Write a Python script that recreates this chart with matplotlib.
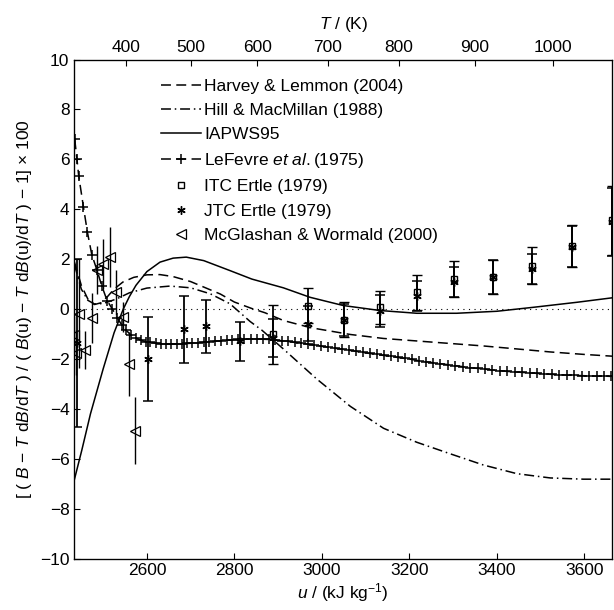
import numpy as np
import matplotlib
matplotlib.use("Agg")
import matplotlib.pyplot as plt
from matplotlib.lines import Line2D

plt.rcParams['font.family'] = ['Liberation Sans', 'DejaVu Sans']
plt.rcParams['mathtext.fontset'] = 'custom'
plt.rcParams['mathtext.rm'] = 'Liberation Sans'
plt.rcParams['mathtext.it'] = 'Liberation Sans:italic'
plt.rcParams['font.size'] = 12.5

# --- curves (u in kJ/kg, deviation in %) ---
IAPWS_U = [2434, 2451, 2471, 2500, 2525, 2546, 2560, 2575, 2600, 2630, 2660, 2690, 2730,
           2790, 2840, 2912, 2973, 3049, 3133, 3217, 3308, 3400, 3484, 3583, 3664]
IAPWS_Y = [-6.85, -5.67, -4.2, -2.4, -0.95, 0.0, 0.5, 0.95, 1.5, 1.88, 2.04, 2.08, 1.94,
           1.54, 1.2, 0.85, 0.47, 0.14, -0.06, -0.17, -0.17, -0.09, 0.07, 0.27, 0.45]

HARVEY_U = [2434, 2450, 2465, 2480, 2495, 2510, 2525, 2545, 2570, 2600, 2630, 2660, 2700,
            2730, 2768, 2800, 2840, 2870, 2912, 2975, 3065, 3141, 3217, 3293, 3369, 3446,
            3522, 3600, 3664]
HARVEY_Y = [1.9, 0.95, 0.4, 0.18, 0.25, 0.5, 0.8, 1.08, 1.27, 1.37, 1.38, 1.30, 1.1,
            0.88, 0.6, 0.28, 0.02, -0.15, -0.46, -0.75, -1.02, -1.18, -1.28, -1.38, -1.48,
            -1.6, -1.72, -1.82, -1.89]

HILL_U = [2434, 2450, 2465, 2480, 2500, 2530, 2560, 2600, 2653, 2700, 2745, 2790, 2836,
          2863, 2912, 2988, 3065, 3141, 3217, 3293, 3369, 3446, 3522, 3598, 3664]
HILL_Y = [1.8, 0.8, 0.35, 0.2, 0.22, 0.4, 0.65, 0.84, 0.92, 0.85, 0.61, 0.21, -0.5,
          -0.85, -1.6, -2.8, -3.9, -4.78, -5.34, -5.8, -6.25, -6.6, -6.77, -6.82, -6.82]

LEFEVRE_U = [2435, 2440, 2444, 2455, 2464, 2474, 2486, 2497, 2509, 2521, 2532, 2543, 2553,
             2564, 2575, 2586, 2597, 2608, 2620, 2632, 2644, 2656, 2668, 2680, 2692, 2704,
             2717, 2730, 2743, 2756, 2769, 2782, 2795, 2809, 2823, 2837, 2851, 2865, 2879,
             2893, 2908, 2923, 2938, 2953, 2968, 2983, 2998, 3013, 3029, 3045, 3061, 3077,
             3093, 3109, 3125, 3141, 3157, 3173, 3189, 3205, 3221, 3237, 3254, 3271, 3288,
             3305, 3322, 3339, 3356, 3373, 3390, 3407, 3424, 3441, 3458, 3475, 3492, 3509,
             3526, 3543, 3560, 3577, 3594, 3611, 3628, 3645, 3662]
LEFEVRE_Y = [6.8, 6.02, 5.35, 4.08, 3.08, 2.18, 1.55, 0.92, 0.34, 0.0, -0.35, -0.65, -0.86,
             -1.05, -1.16, -1.25, -1.31, -1.34, -1.37, -1.39, -1.40, -1.40, -1.40, -1.39,
             -1.38, -1.37, -1.35, -1.33, -1.31, -1.29, -1.27, -1.25, -1.24, -1.22, -1.21,
             -1.20, -1.20, -1.21, -1.22, -1.24, -1.27, -1.30, -1.34, -1.37, -1.41, -1.45,
             -1.49, -1.53, -1.57, -1.61, -1.65, -1.69, -1.74, -1.78, -1.82, -1.86, -1.90,
             -1.94, -1.98, -2.02, -2.07, -2.11, -2.15, -2.19, -2.23, -2.27, -2.31, -2.35,
             -2.38, -2.41, -2.44, -2.47, -2.50, -2.52, -2.54, -2.56, -2.58, -2.60, -2.62,
             -2.63, -2.65, -2.66, -2.67, -2.68, -2.69, -2.69, -2.70]

# --- measurements ---
ITC_U = [2889, 2969, 3051, 3133, 3217, 3302, 3391, 3480, 3572, 3663]
ITC_Y = [-1.02, 0.14, -0.42, 0.07, 0.67, 1.21, 1.28, 1.74, 2.52, 3.55]
ITC_ERR = [1.2, 0.7, 0.69, 0.67, 0.7, 0.72, 0.67, 0.75, 0.83, 1.37]

JTC_U = [2440, 2602, 2684, 2735, 2813, 2889, 2969, 3051, 3133, 3217, 3302, 3391, 3480, 3572, 3663]
JTC_Y = [-1.37, -2.0, -0.82, -0.70, -1.30, -1.15, -0.59, -0.44, -0.09, 0.54, 1.08, 1.28, 1.61, 2.50, 3.5]
JTC_ERR = [3.37, 1.69, 1.34, 1.05, 0.8, 0.77, 0.7, 0.65, 0.65, 0.6, 0.6, 0.67, 0.6, 0.83, 1.37]

MCG_U = [2434, 2438, 2444, 2459, 2474, 2486, 2499, 2516, 2530, 2545, 2558, 2572]
MCG_Y = [-1.06, -1.75, -0.18, -1.65, -0.37, 1.57, 1.81, 2.08, 0.67, -0.33, -2.2, -4.87]
MCG_ERR = [0.8, 0.9, 2.2, 0.75, 1.0, 0.95, 1.0, 1.2, 0.9, 0.6, 1.27, 1.36]

# top axis: temperature ticks placed at matching u
T_TICK_U = [2553, 2700, 2852, 3013, 3176, 3349, 3528]
T_TICK_LABELS = ['400', '500', '600', '700', '800', '900', '1000']

X_TICKS = [2600, 2800, 3000, 3200, 3400, 3600]
Y_TICKS = [-10, -8, -6, -4, -2, 0, 2, 4, 6, 8, 10]

LW = 1.1
DASHED = (6.5, 3.5)
DASHDOT = (6.5, 2.5, 1.0, 2.5)


def draw(ax):
    ax.axhline(0, color='black', lw=0.8, linestyle=(0, (1, 4)), zorder=1)
    ax.plot(HARVEY_U, HARVEY_Y, color='black', lw=LW, dashes=DASHED)
    ax.plot(HILL_U, HILL_Y, color='black', lw=LW, dashes=DASHDOT)
    ax.plot(IAPWS_U, IAPWS_Y, color='black', lw=LW)
    ax.plot(LEFEVRE_U, LEFEVRE_Y, color='black', lw=LW, dashes=DASHED,
            marker='+', markersize=6.5, markeredgewidth=1.1)

    ax.errorbar(ITC_U, ITC_Y, yerr=ITC_ERR, fmt='s', color='black', mfc='none',
                markersize=5, elinewidth=1.3, capsize=3.5, capthick=1.1, mew=1.0)
    ax.errorbar(JTC_U, JTC_Y, yerr=JTC_ERR, fmt='none', ecolor='black',
                elinewidth=1.3, capsize=3.5, capthick=1.1)
    ax.plot(JTC_U, JTC_Y, linestyle='none', marker=(6, 2, 0), color='black',
            markersize=6, mew=1.0)
    ax.errorbar(MCG_U, MCG_Y, yerr=MCG_ERR, fmt='<', color='black', mfc='none',
                markersize=7, elinewidth=1.0, capsize=0, mew=0.9)


def main():
    fig = plt.figure(figsize=(6.14, 6.10), dpi=100)
    ax = fig.add_axes([0.121, 0.0844, 0.8762, 0.818])

    draw(ax)

    ax.set_xlim(2434, 3664)
    ax.set_ylim(-10, 10)
    ax.set_xticks(X_TICKS)
    ax.set_yticks(Y_TICKS)
    ax.set_yticklabels(['\u221210', '\u22128', '\u22126', '\u22124', '\u22122',
                        '0', '2', '4', '6', '8', '10'])
    ax.tick_params(direction='in', length=4, width=0.8, top=False, right=False)
    for s in ax.spines.values():
        s.set_linewidth(0.9)
    ax.set_xlabel(r'$u$ / (kJ kg$^{\mathregular{-1}}$)', labelpad=2)
    ax.set_ylabel(r'[ ( $B$ $-$ $T$ d$B$/d$T$ ) / ( $B$(u) $-$ $T$ d$B$(u)/d$T$ ) $-$ 1] $\times$ 100',
                  labelpad=4)

    ax2 = ax.twiny()
    ax2.set_xlim(ax.get_xlim())
    ax2.set_xticks(T_TICK_U)
    ax2.set_xticklabels(T_TICK_LABELS)
    ax2.tick_params(direction='in', length=4, width=0.8)
    ax2.set_xlabel(r'$T$ / (K)', labelpad=8)

    handles = [
        Line2D([], [], color='black', lw=LW, dashes=DASHED),
        Line2D([], [], color='black', lw=LW, dashes=DASHDOT),
        Line2D([], [], color='black', lw=LW),
        Line2D([], [], color='black', lw=LW, dashes=DASHED, marker='+',
               markersize=6.5, markeredgewidth=1.1),
        Line2D([], [], color='black', linestyle='none', marker='s', mfc='none',
               markersize=5, mew=1.0),
        Line2D([], [], color='black', linestyle='none', marker=(6, 2, 0),
               markersize=6, mew=1.0),
        Line2D([], [], color='black', linestyle='none', marker='<', mfc='none',
               markersize=7, mew=0.9),
    ]
    labels = ['Harvey & Lemmon (2004)', 'Hill & MacMillan (1988)', 'IAPWS95',
              r'LeFevre $et\ al.$(1975)', 'ITC Ertle (1979)', 'JTC Ertle (1979)',
              'McGlashan & Wormald (2000)']
    ax.legend(handles, labels, loc='upper left', bbox_to_anchor=(152 / 614, 1 - 70 / 610),
              bbox_transform=fig.transFigure, frameon=False, borderpad=0,
              handlelength=2.3, handletextpad=0.2, labelspacing=0.52, numpoints=1)

    fig.savefig('out.png', dpi=100)
    plt.close(fig)


if __name__ == "__main__":
    main()
